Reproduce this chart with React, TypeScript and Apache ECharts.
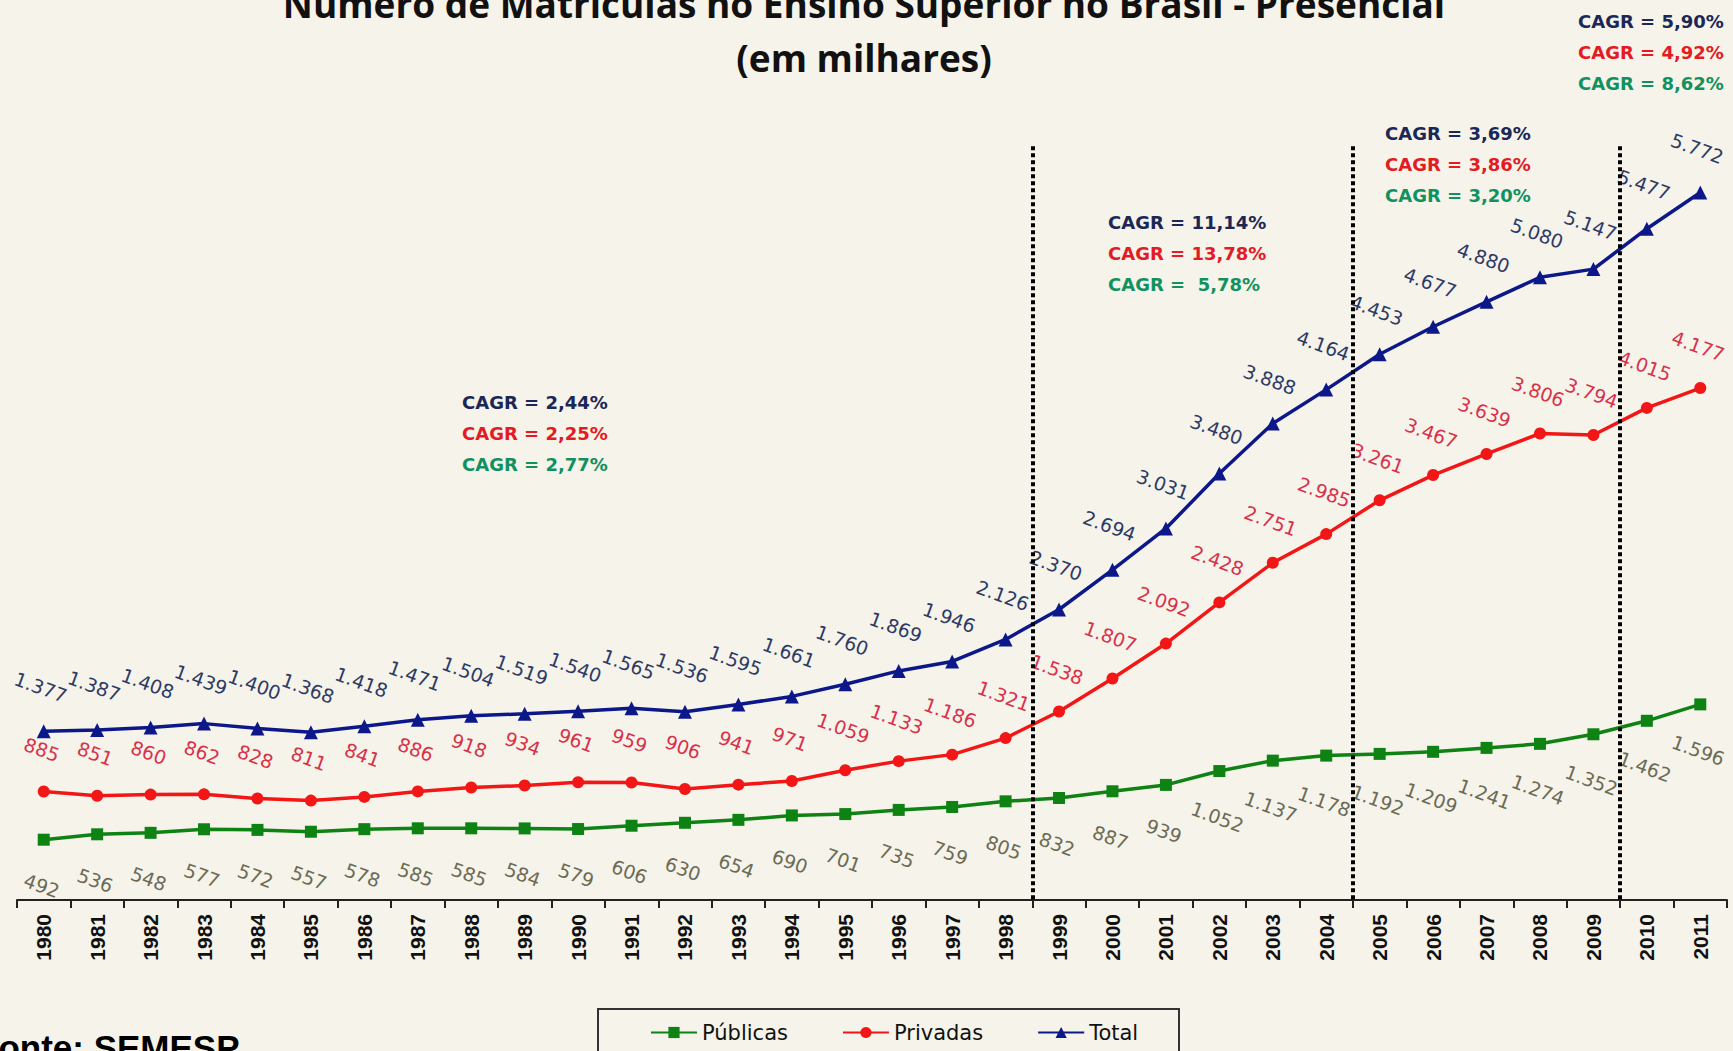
import React, { useEffect, useRef } from "react";
import * as echarts from "echarts";

const years = [
  "1980", "1981", "1982", "1983", "1984", "1985", "1986", "1987", "1988", "1989",
  "1990", "1991", "1992", "1993", "1994", "1995", "1996", "1997", "1998", "1999",
  "2000", "2001", "2002", "2003", "2004", "2005", "2006", "2007", "2008", "2009",
  "2010", "2011",
];

const publicas = [
  492, 536, 548, 577, 572, 557, 578, 585, 585, 584, 579, 606, 630, 654, 690, 701,
  735, 759, 805, 832, 887, 939, 1052, 1137, 1178, 1192, 1209, 1241, 1274, 1352,
  1462, 1596,
];

const privadas = [
  885, 851, 860, 862, 828, 811, 841, 886, 918, 934, 961, 959, 906, 941, 971, 1059,
  1133, 1186, 1321, 1538, 1807, 2092, 2428, 2751, 2985, 3261, 3467, 3639, 3806,
  3794, 4015, 4177,
];

const total = [
  1377, 1387, 1408, 1439, 1400, 1368, 1418, 1471, 1504, 1519, 1540, 1565, 1536,
  1595, 1661, 1760, 1869, 1946, 2126, 2370, 2694, 3031, 3480, 3888, 4164, 4453,
  4677, 4880, 5080, 5147, 5477, 5772,
];

// first year of each new period (dotted separators drawn before these years)
const periodStartYears = ["1999", "2005", "2010"];

// CAGR per period: [Total, Privadas, Públicas]
const cagrTotal = ["2,44%", "11,14%", "3,69%", "5,90%"];
const cagrPrivadas = ["2,25%", "13,78%", "3,86%", "4,92%"];
const cagrPublicas = ["2,77%", " 5,78%", "3,20%", "8,62%"];

const titleLines = [
  "Número de Matrículas no Ensino Superior no Brasil - Presencial",
  "(em milhares)",
];

const COLORS = {
  bg: "#f5f3ea",
  pub: "#0f8214",
  priv: "#f21616",
  tot: "#0c178a",
  pubLabel: "#6b6b55",
  privLabel: "#d8324a",
  totLabel: "#2e3a66",
  cagrTot: "#1b2755",
  cagrPriv: "#e31b23",
  cagrPub: "#129160",
};

// layout for the CAGR annotation blocks (left x, first line y)
const cagrBlocks = [
  { x: 462, y: 402 },
  { x: 1108, y: 222 },
  { x: 1385, y: 133 },
  { x: 1578, y: 21 },
];

const fmt = (v: number) => String(v).replace(/\B(?=(\d{3})+(?!\d))/g, ".");

const ROT = 20;
// convert a desired on-screen offset into the label's rotated frame
const rotOffset = (dx: number, dy: number) => {
  const t = (ROT * Math.PI) / 180;
  // label frame rotated clockwise by t on screen; inverse rotation
  return [dx * Math.cos(t) + dy * Math.sin(t), -dx * Math.sin(t) + dy * Math.cos(t)];
};

export default function App() {
  const ref = useRef<HTMLDivElement>(null);

  useEffect(() => {
    if (!ref.current) return;
    const chart = echarts.init(ref.current, undefined, { renderer: "svg" });

    const labelBase = {
      show: true,
      position: "inside" as const,
      rotate: -ROT,
      fontFamily: "DejaVu Sans",
      fontSize: 19,
      formatter: (p: any) => fmt(p.value),
    };

    const sepTop = 6150;
    const markData = periodStartYears.map((y) => {
      const pos = years.indexOf(y) - 0.5;
      return [{ coord: [pos, sepTop] }, { coord: [pos, 0] }];
    });

    const graphics: any[] = [];
    titleLines.forEach((t, i) => {
      graphics.push({
        type: "text",
        x: 864,
        y: i === 0 ? 3 : 57,
        style: {
          text: t,
          fill: "#111",
          font: 'bold 37px "Open Sans"',
          textAlign: "center",
          textVerticalAlign: "middle",
        },
      });
    });
    cagrBlocks.forEach((b, i) => {
      const lines = [
        [cagrTotal[i], COLORS.cagrTot],
        [cagrPrivadas[i], COLORS.cagrPriv],
        [cagrPublicas[i], COLORS.cagrPub],
      ];
      lines.forEach(([val, col], j) => {
        graphics.push({
          type: "text",
          x: b.x,
          y: b.y + j * 31,
          style: {
            text: "CAGR = " + val,
            fill: col,
            font: 'bold 18px "DejaVu Sans"',
            textAlign: "left",
            textVerticalAlign: "middle",
          },
        });
      });
    });
    graphics.push({
      type: "rect",
      shape: { x: 598, y: 1009, width: 581, height: 60 },
      style: { fill: "none", stroke: "#333", lineWidth: 2 },
    });
    graphics.push({
      type: "text",
      x: -23,
      y: 1030,
      style: {
        text: "Fonte: SEMESP",
        fill: "#000",
        font: 'bold 35px "Liberation Sans"',
        textAlign: "left",
        textVerticalAlign: "top",
      },
    });

    chart.setOption({
      animation: false,
      backgroundColor: COLORS.bg,
      grid: { left: 17, right: 6, top: 42, bottom: 151, containLabel: false },
      xAxis: [
        {
          type: "category",
          data: years,
          boundaryGap: true,
          axisLine: { lineStyle: { color: "#222", width: 2 } },
          axisTick: { show: true, interval: 0, length: 8, lineStyle: { color: "#222", width: 2 } },
          axisLabel: {
            interval: 0,
            rotate: 90,
            margin: 14,
            color: "#111",
            fontFamily: "Liberation Sans",
            fontWeight: "bold",
            fontSize: 21,
          },
          splitLine: { show: false },
        },
        { type: "value", min: -0.5, max: 31.5, show: false },
      ],
      yAxis: { type: "value", min: 0, max: 7000, show: false },
      legend: {
        data: ["Públicas", "Privadas", "Total"],
        left: 650,
        top: 1022,
        padding: 0,
        itemWidth: 46,
        itemHeight: 14,
        itemGap: 54,
        textStyle: { fontFamily: "DejaVu Sans", fontSize: 21, color: "#111" },
      },
      graphic: graphics,
      series: [
        {
          name: "Públicas",
          type: "line",
          data: publicas,
          symbol: "rect",
          symbolSize: 12,
          color: COLORS.pub,
          lineStyle: { width: 3.5, color: COLORS.pub },
          itemStyle: { color: COLORS.pub },
          label: { ...labelBase, offset: rotOffset(-2, 46), color: COLORS.pubLabel },
          z: 3,
        },
        {
          name: "Privadas",
          type: "line",
          data: privadas,
          symbol: "circle",
          symbolSize: 12,
          color: COLORS.priv,
          lineStyle: { width: 3.5, color: COLORS.priv },
          itemStyle: { color: COLORS.priv },
          label: { ...labelBase, offset: rotOffset(-2, -42), color: COLORS.privLabel },
          z: 3,
        },
        {
          name: "Total",
          type: "line",
          data: total,
          symbol: "triangle",
          symbolSize: 14,
          color: COLORS.tot,
          lineStyle: { width: 3.5, color: COLORS.tot },
          itemStyle: { color: COLORS.tot },
          label: { ...labelBase, offset: rotOffset(-3, -44), color: COLORS.totLabel },
          z: 3,
        },
        {
          name: "separators",
          type: "line",
          xAxisIndex: 1,
          data: [],
          silent: true,
          markLine: {
            silent: true,
            symbol: "none",
            label: { show: false },
            lineStyle: { color: "#000", type: [4, 3], width: 4 },
            data: markData,
          },
          z: 2,
        },
      ],
    });

    return () => chart.dispose();
  }, []);

  return (
    <div
      ref={ref}
      style={{ position: "fixed", left: 0, top: 0, width: 1733, height: 1051 }}
    />
  );
}
